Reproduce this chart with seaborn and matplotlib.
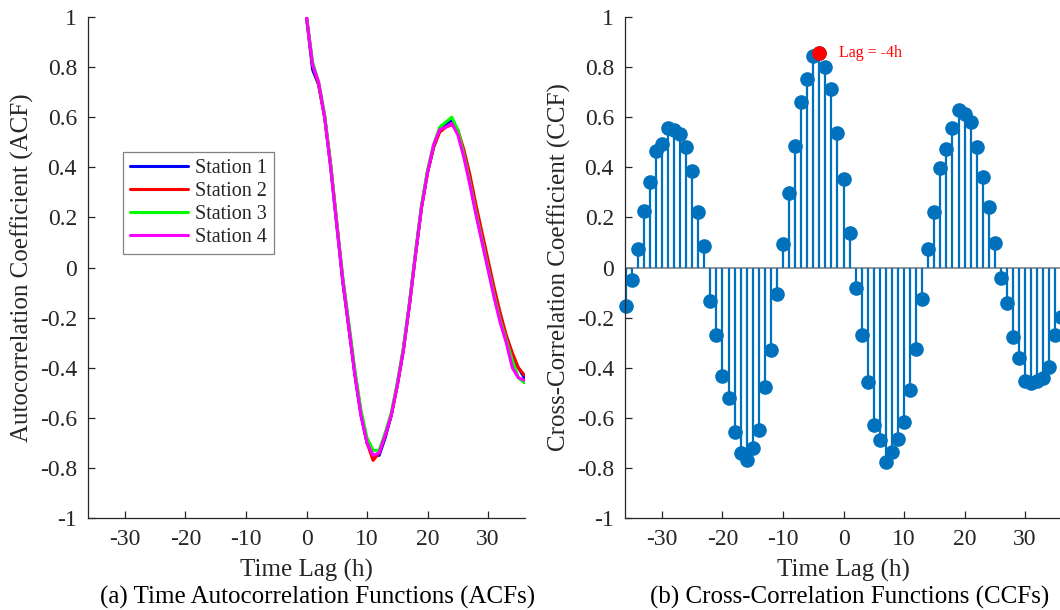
import matplotlib
matplotlib.use("Agg")
import matplotlib.pyplot as plt
import numpy as np
import pandas as pd
import seaborn as sns

# ACF values for lags 0..36 h
acf_lags = list(range(0, 37))
station_1 = [1.00, 0.79, 0.73, 0.60, 0.40, 0.17, -0.06, -0.24, -0.43, -0.59, -0.70, -0.75, -0.75,
             -0.68, -0.59, -0.47, -0.33, -0.15, 0.05, 0.24, 0.38, 0.48, 0.55, 0.57, 0.59, 0.54,
             0.45, 0.34, 0.22, 0.11, 0.00, -0.11, -0.21, -0.28, -0.36, -0.40, -0.44]
station_2 = [1.00, 0.81, 0.73, 0.60, 0.41, 0.18, -0.05, -0.24, -0.42, -0.58, -0.70, -0.77, -0.74,
             -0.67, -0.59, -0.47, -0.33, -0.15, 0.05, 0.24, 0.38, 0.48, 0.54, 0.56, 0.57, 0.55,
             0.47, 0.37, 0.25, 0.14, 0.03, -0.08, -0.18, -0.27, -0.34, -0.40, -0.43]
station_3 = [1.00, 0.82, 0.74, 0.61, 0.41, 0.18, -0.04, -0.22, -0.41, -0.57, -0.68, -0.73, -0.73,
             -0.66, -0.58, -0.46, -0.32, -0.14, 0.06, 0.25, 0.39, 0.49, 0.56, 0.58, 0.60, 0.55,
             0.45, 0.34, 0.22, 0.11, 0.00, -0.11, -0.21, -0.29, -0.37, -0.44, -0.46]
station_4 = [1.00, 0.81, 0.74, 0.60, 0.40, 0.17, -0.05, -0.24, -0.43, -0.59, -0.70, -0.75, -0.74,
             -0.67, -0.59, -0.47, -0.33, -0.15, 0.05, 0.24, 0.38, 0.49, 0.55, 0.56, 0.575, 0.53,
             0.44, 0.33, 0.21, 0.10, -0.01, -0.12, -0.22, -0.30, -0.40, -0.44, -0.45]
station_names = ["Station 1", "Station 2", "Station 3", "Station 4"]

# CCF values for lags -36..36 h
ccf_lags = list(range(-36, 37))
ccf_values = [-0.155, -0.05, 0.072, 0.224, 0.341, 0.467, 0.493, 0.555, 0.549, 0.533, 0.481, 0.386,
              0.221, 0.084, -0.132, -0.268, -0.432, -0.521, -0.655, -0.740, -0.768, -0.721, -0.647,
              -0.477, -0.331, -0.104, 0.092, 0.297, 0.487, 0.662, 0.753, 0.845, 0.856, 0.802, 0.712,
              0.538, 0.352, 0.138, -0.080, -0.271, -0.459, -0.627, -0.688, -0.776, -0.735, -0.686,
              -0.617, -0.488, -0.324, -0.127, 0.072, 0.220, 0.399, 0.473, 0.556, 0.628, 0.611,
              0.581, 0.483, 0.363, 0.241, 0.099, -0.040, -0.141, -0.279, -0.363, -0.455, -0.461,
              -0.453, -0.440, -0.396, -0.268, -0.198]
peak_lag = -4

yticks = [-1, -0.8, -0.6, -0.4, -0.2, 0, 0.2, 0.4, 0.6, 0.8, 1]
ytick_labels = ["-1", "-0.8", "-0.6", "-0.4", "-0.2", "0", "0.2", "0.4", "0.6", "0.8", "1"]
xticks = [-30, -20, -10, 0, 10, 20, 30]

sns.set_style("ticks")
plt.rcParams["font.family"] = ["Liberation Serif", "DejaVu Serif"]
plt.rcParams["axes.unicode_minus"] = False

axis_col = "#262626"
fig = plt.figure(figsize=(10.6, 6.1), dpi=100)
ax1 = fig.add_axes([88 / 1060, 92 / 610, 437 / 1060, 501 / 610])
ax2 = fig.add_axes([625 / 1060, 92 / 610, 437 / 1060, 501 / 610])

# (a) ACFs
acf_df = pd.DataFrame({
    "lag": acf_lags * 4,
    "acf": station_1 + station_2 + station_3 + station_4,
    "station": sum([[n] * len(acf_lags) for n in station_names], []),
})
palette = {"Station 1": "#0000FF", "Station 2": "#FF0000",
           "Station 3": "#00FF00", "Station 4": "#FF00FF"}
sns.lineplot(data=acf_df, x="lag", y="acf", hue="station", hue_order=station_names,
             palette=palette, linewidth=2.2, ax=ax1)
ax1.legend(loc="upper left", bbox_to_anchor=(0.08, 0.73), borderaxespad=0,
           fontsize=14.5, frameon=True, fancybox=False, edgecolor="#808080",
           framealpha=1, handlelength=2.9, handletextpad=0.35, labelspacing=0.18,
           borderpad=0.35)
ax1.get_legend().get_frame().set_linewidth(0.9)
ax1.set_ylabel("Autocorrelation Coefficient (ACF)", fontsize=18, labelpad=4)

# (b) CCFs
markers, stems, base = ax2.stem(ccf_lags, ccf_values, basefmt=" ")
plt.setp(stems, color="#0072BD", linewidth=1.6)
plt.setp(markers, color="#0072BD", markersize=9.5, clip_on=False)
ax2.axhline(0, color="#808080", linewidth=1.2, zorder=1)
pk = ccf_values[ccf_lags.index(peak_lag)]
ax2.plot([peak_lag], [pk], "o", color="#FF0000", markersize=9.5, zorder=5)
ax2.text(peak_lag + 3.3, pk, "Lag = -4h", color="#FF0000", fontsize=11.5,
         va="center", ha="left")
ax2.set_ylabel("Cross-Correlation Coefficient (CCF)", fontsize=18, labelpad=4)

for ax in (ax1, ax2):
    ax.set_xlim(-36.1, 36.1)
    ax.set_ylim(-1, 1)
    ax.set_xticks(xticks)
    ax.set_yticks(yticks)
    ax.set_yticklabels(ytick_labels)
    ax.set_xlabel("Time Lag (h)", fontsize=18, labelpad=6)
    ax.tick_params(direction="in", length=5, width=0.9, labelsize=17,
                   colors=axis_col, pad=8)
    sns.despine(ax=ax)
    for s in ("left", "bottom"):
        ax.spines[s].set_color(axis_col)
        ax.spines[s].set_linewidth(0.9)
    ax.xaxis.label.set_color(axis_col)
    ax.yaxis.label.set_color(axis_col)

fig.text(318 / 1060, 1 - 597 / 610, "(a) Time Autocorrelation Functions (ACFs)",
         fontsize=18, ha="center", va="center", color="#000000")
fig.text(850 / 1060, 1 - 597 / 610, "(b) Cross-Correlation Functions (CCFs)",
         fontsize=18, ha="center", va="center", color="#000000")

fig.savefig("out.png", dpi=100)
